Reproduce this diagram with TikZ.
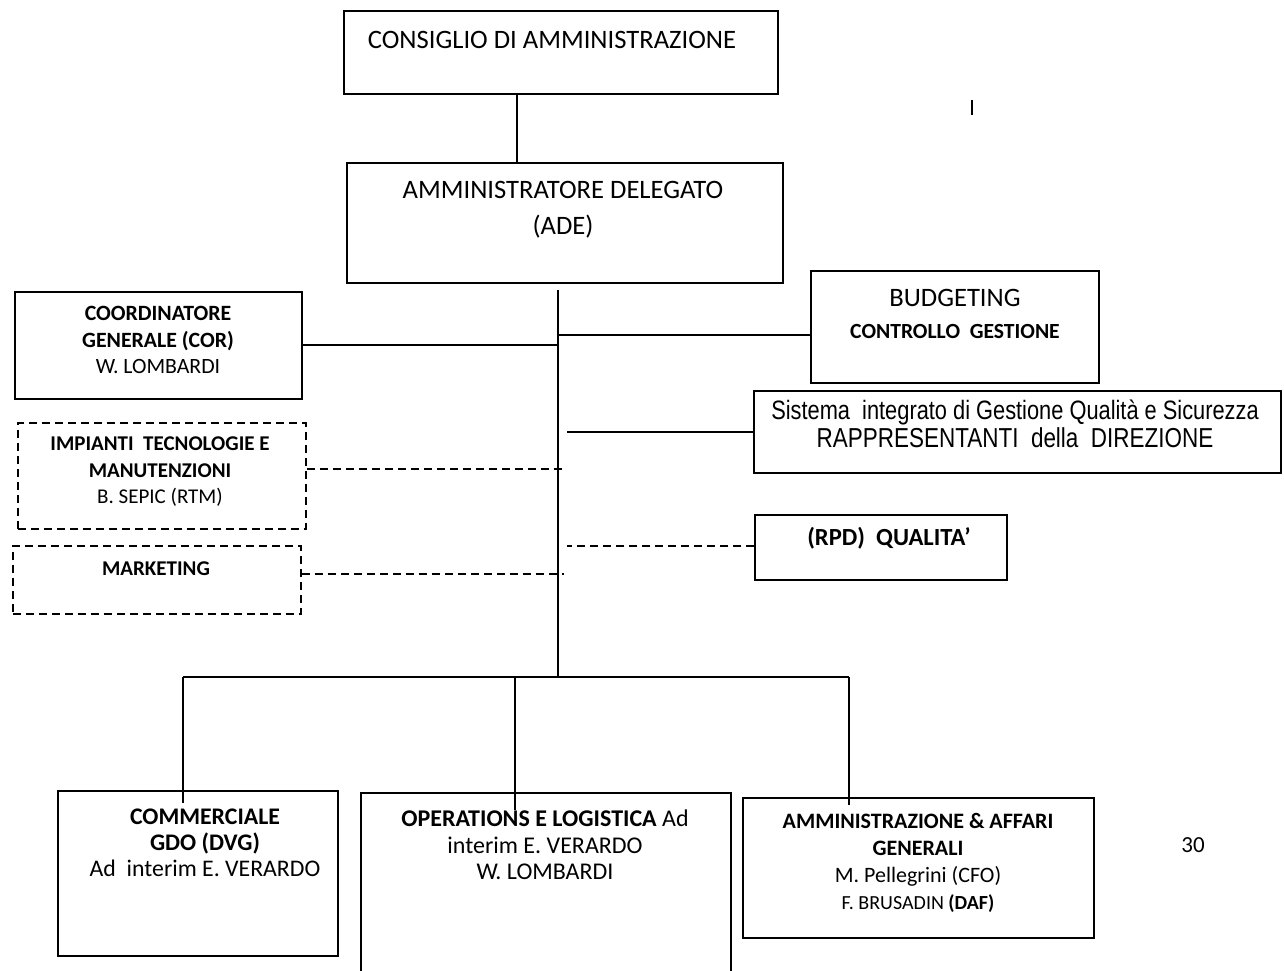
\documentclass[tikz,border=0pt]{standalone}
\usepackage{fontspec}
\setmainfont{Carlito}
\newfontfamily\narrow[FakeStretch=0.82]{Liberation Sans}
\usetikzlibrary{positioning}
\tikzset{
  box/.style={draw, line width=0.9pt, rectangle, inner sep=0pt, anchor=north west},
  dbox/.style={box, dash pattern=on 4pt off 2.5pt},
  dline/.style={dash pattern=on 4pt off 2.5pt},
  txt/.style={align=center, inner sep=0pt}
}
\begin{document}
\begin{tikzpicture}[x=0.5pt,y=-0.5pt,line width=0.9pt]
\useasboundingbox (0,0) rectangle (1284,970);
\clip (0,0) rectangle (1284,970);
\fill[white] (0,0) rectangle (1284,970);
% boxes
\node[box, minimum width=217pt, minimum height=41.5pt] (cda) at (343,10) {};
\node[box, minimum width=218pt, minimum height=60pt] (ade) at (346,162) {};
\node[box, minimum width=143.5pt, minimum height=53.5pt] (cor) at (14,291) {};
\node[box, minimum width=144pt, minimum height=56pt] (bud) at (810,270) {};
\node[box, minimum width=263.5pt, minimum height=41pt] (sist) at (753,390) {};
\node[dbox, minimum width=144pt, minimum height=53pt] (imp) at (17,422) {};
\node[dbox, minimum width=144pt, minimum height=34pt] (mkt) at (12,545) {};
\node[box, minimum width=126pt, minimum height=32.5pt] (rpd) at (754,514) {};
\node[box, minimum width=140pt, minimum height=82.5pt] (com) at (57,790) {};
\node[box, minimum width=185pt, minimum height=100pt] (ops) at (360,792) {};
\node[box, minimum width=175.5pt, minimum height=70pt] (amm) at (742,797) {};
% texts
\node[txt, anchor=west, font=\fontsize{13.3}{18}\selectfont] (cdaT) at (367,40) {CONSIGLIO DI AMMINISTRAZIONE};
\node[txt, font=\fontsize{13.3}{18}\selectfont] (adeT) at (563,210) {AMMINISTRATORE DELEGATO\\(ADE)};
\node[txt, font=\fontsize{10.9}{13.25}\selectfont] (corT) at (158,340) {\textbf{COORDINATORE}\\\textbf{GENERALE (COR)}\\W. LOMBARDI};
\node[txt] (budT) at (955,314) {{\fontsize{13.3}{16}\selectfont BUDGETING}\\[4pt]{\fontsize{10.8}{13}\selectfont\bfseries CONTROLLO~~GESTIONE}};
\node[txt, font=\narrow] (sistT) at (1015,424) {{\fontsize{13.3}{14}\selectfont Sistema~~integrato di Gestione Qualità e Sicurezza}\\{\fontsize{13.7}{15}\selectfont RAPPRESENTANTI~~della~~DIREZIONE}};
\node[txt, font=\fontsize{10.5}{13.25}\selectfont] (impT) at (160,472) {\textbf{IMPIANTI~~TECNOLOGIE E}\\\textbf{MANUTENZIONI}\\B. SEPIC (RTM)};
\node[txt, font=\fontsize{10.5}{13.25}\selectfont\bfseries] (mktT) at (156,569) {MARKETING};
\node[txt, font=\fontsize{12.3}{13.25}\selectfont\bfseries] (rpdT) at (889,538) {(RPD)~~QUALITA’};
\node[txt, font=\fontsize{11.9}{13}\selectfont] (comT) at (205,843) {\textbf{COMMERCIALE}\\\textbf{GDO (DVG)}\\Ad~~interim E. VERARDO};
\node[txt, font=\fontsize{12}{13.2}\selectfont] (opsT) at (545,845) {\textbf{OPERATIONS E LOGISTICA} Ad\\interim E. VERARDO\\W. LOMBARDI};
\node[txt, font=\fontsize{11}{13.5}\selectfont] (ammT) at (918,863) {\textbf{AMMINISTRAZIONE \& AFFARI}\\\textbf{GENERALI}\\M. Pellegrini (CFO)\\{\fontsize{10}{13}\selectfont F. BRUSADIN \textbf{(DAF)}}};
\node[txt, font=\fontsize{11.5}{13}\selectfont] (page) at (1193,845) {30};
% connectors
\coordinate (sTop) at (558,290);
\coordinate (sBot) at (558,677);
\coordinate (b1) at (183,677);
\coordinate (b2) at (515,677);
\coordinate (b3) at (849,677);
\draw ([xshift=-22pt]cda.south) -- ([xshift=-22pt]cda.south |- ade.north);
\draw (972,100) -- (972,115);
\draw (sTop) -- (sBot);
\draw ([yshift=0.4pt]cor.east) -- ([yshift=0.4pt]cor.east -| sTop);
\draw ([yshift=-4pt]bud.west) -- ([yshift=-4pt]bud.west -| sTop);
\draw (sist.west) -- ++(-186,0);
\draw[dline] ([yshift=3.5pt]imp.east) -- ++(257,0);
\draw[dline] ([yshift=3pt]mkt.east) -- ++(262,0);
\draw[dline] ([yshift=0.6pt]rpd.west) -- ++(-187,0);
\draw (b1) -- (b3);
\draw (b1) -- ++(0,126);
\draw (b2) -- ++(0,133);
\draw (b3) -- ++(0,128);
\end{tikzpicture}
\end{document}
